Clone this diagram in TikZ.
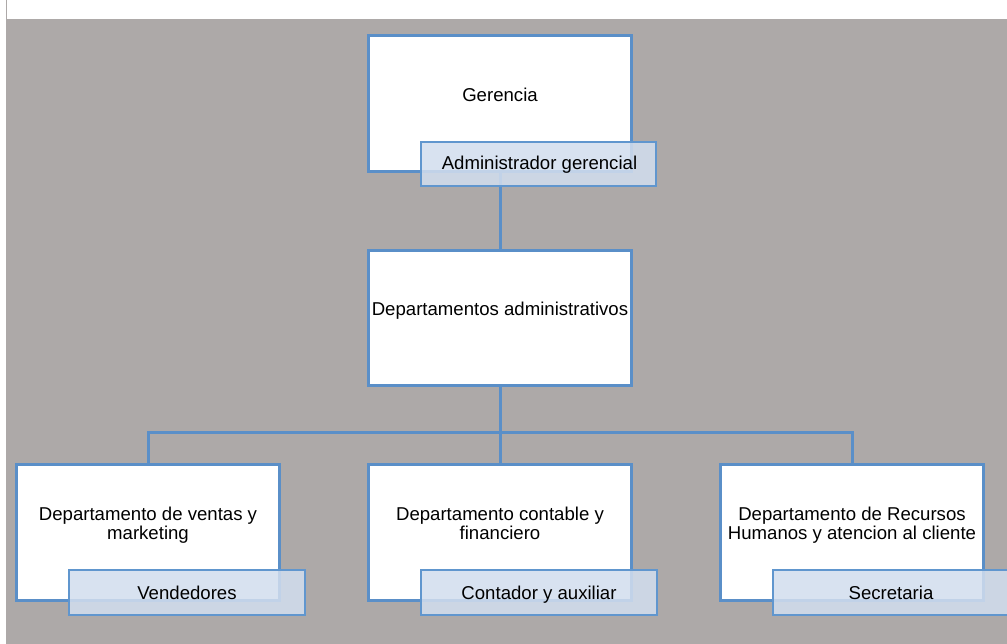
\documentclass[tikz,border=0pt]{standalone}
\usepackage{fontspec}
\setmainfont{Liberation Sans}
\definecolor{bg}{HTML}{ADA9A8}
\definecolor{bord}{HTML}{5A8FC8}
\definecolor{subfill}{HTML}{D2DEEE}
\definecolor{subbord}{HTML}{6096CE}
\newcommand{\twolines}[2]{\begin{tabular}[t]{@{}c@{}}#1\\#2\end{tabular}}
\begin{document}
\begin{tikzpicture}[x=1pt,y=-1pt,
  mainbox/.style={draw=bord,line width=3pt,fill=white,minimum width=263pt,minimum height=136pt,inner sep=0pt},
  subbox/.style={draw=subbord,line width=2pt,fill=subfill,fill opacity=0.86,text opacity=1,minimum width=236pt,minimum height=45pt,inner sep=0pt},
  lbl/.style={anchor=base,inner sep=0pt,font=\fontsize{18.6}{18.5}\selectfont},
  conn/.style={draw=bord,line width=3pt}]
\useasboundingbox (0,0) rectangle (1007,644);
\fill[bg] (6,19) rectangle (1007,644);
\draw[bg,line width=1pt] (6.5,0) -- (6.5,19);
\begin{scope}
\clip (0,0) rectangle (1007,644);
% connectors (drawn first, behind the boxes)
\coordinate (gs) at (500,171.5);
\coordinate (dn) at (500,250.5);
\coordinate (ds) at (500,385.5);
\coordinate (bus) at (500,432.5);
\coordinate (n1) at (148,464.5);
\coordinate (n2) at (500,464.5);
\coordinate (n3) at (852,464.5);
\draw[conn] (gs) -- (dn);
\draw[conn] (ds) -- (n2);
\draw[conn] (bus) -| (n1);
\draw[conn] (bus) -| (n3);
% main boxes
\node[mainbox] (g) at (500,103.5) {};
\node[mainbox,minimum height=135pt] (d) at (500,318) {};
\node[mainbox] (b1) at (148,532.5) {};
\node[mainbox] (b2) at (500,532.5) {};
\node[mainbox] (b3) at (852,532.5) {};
% texts of main boxes
\node[lbl] (tg) at (500,101.7) {Gerencia};
\node[lbl] (td) at (500,316) {Departamentos administrativos};
\node[lbl] (t1) at (148,520) {\twolines{Departamento de ventas y}{marketing}};
\node[lbl] (t2) at (500,520) {\twolines{Departamento contable y}{financiero}};
\node[lbl] (t3) at (852,520) {\twolines{Departamento de Recursos}{Humanos y atencion al cliente}};
% sub boxes
\node[subbox,minimum width=235pt,minimum height=44pt] (sg) at (538.5,164) {};
\node[subbox] (s1) at (187,592.5) {};
\node[subbox] (s2) at (539,592.5) {};
\node[subbox] (s3) at (891,592.5) {};
\node[lbl] (tsg) at (539.5,170) {Administrador gerencial};
\node[lbl] (ts1) at (187,599) {Vendedores};
\node[lbl] (ts2) at (539,599) {Contador y auxiliar};
\node[lbl] (ts3) at (891,599) {Secretaria};
\end{scope}
\end{tikzpicture}
\end{document}
